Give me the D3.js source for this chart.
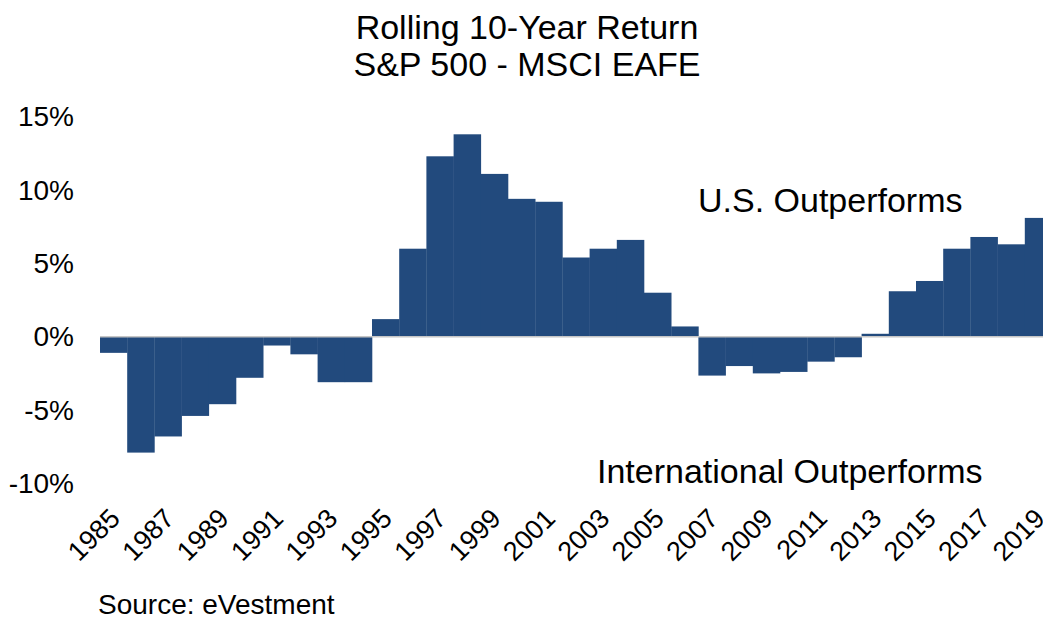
<!DOCTYPE html>
<html>
<head>
<meta charset="utf-8">
<script src="https://cdn.jsdelivr.net/npm/d3@7"></script>
<style>
  body { margin: 0; background: #fff; }
  text { font-family: "Liberation Sans", Arial, sans-serif; fill: #000; }
</style>
</head>
<body>
<div id="chart"></div>
<script>
// rolling 10-year return, S&P 500 minus MSCI EAFE (%)
let years = d3.range(1985, 2020).map(String);
let spread = [-1.1, -7.9, -6.8, -5.4, -4.6, -2.8, -0.6, -1.2, -3.1, -3.1,
              1.2, 6.0, 12.3, 13.8, 11.1, 9.4, 9.2, 5.4, 6.0, 6.6,
              3.0, 0.7, -2.65, -2.0, -2.5, -2.4, -1.7, -1.4, 0.2, 3.1,
              3.8, 6.0, 6.8, 6.3, 8.1];
let yTicks = [-10, -5, 0, 5, 10, 15];
let yearLabels = years.filter((d, i) => i % 2 == 0);

let width = 1043, height = 619;
let barColor = '#224a7d';

let svg = d3.select("#chart").append("svg")
  .attr('width', width)
  .attr('height', height);

let x = d3.scaleBand().domain(years).range([100, 1052]).padding(0);
let y = d3.scaleLinear().domain([-10, 15]).range([483.4, 116.7]);

// title
svg.append("text")
  .attr("x", 527).attr("y", 39)
  .attr("text-anchor", "middle")
  .attr("font-size", 34)
  .text("Rolling 10-Year Return");
svg.append("text")
  .attr("x", 527).attr("y", 76)
  .attr("text-anchor", "middle")
  .attr("font-size", 34)
  .text("S&P 500 - MSCI EAFE");

// bars
svg.append("g")
  .selectAll("rect")
  .data(spread)
  .enter()
  .append("rect")
  .attr("x", (d, i) => x(years[i]))
  .attr("width", x.bandwidth() + 0.3)
  .attr("y", d => y(Math.max(0, d)))
  .attr("height", d => Math.abs(y(d) - y(0)))
  .attr("fill", barColor);

// zero line
svg.append("line")
  .attr("x1", 100).attr("x2", width)
  .attr("y1", y(0)).attr("y2", y(0))
  .attr("stroke", "#c6c6c6")
  .attr("stroke-width", 1.5);

// y axis labels (no axis line)
let yAxis = d3.axisLeft(y)
  .tickValues(yTicks)
  .tickSize(0)
  .tickPadding(0)
  .tickFormat(d => d + "%");
let ya = svg.append("g")
  .attr("transform", "translate(74,0)")
  .call(yAxis);
ya.select(".domain").remove();
ya.selectAll("text")
  .attr("font-size", 28)
  .attr("font-family", '"Liberation Sans", Arial, sans-serif')
  .attr("fill", "#000");

// x axis labels, rotated
let xAxis = d3.axisBottom(x)
  .tickValues(yearLabels)
  .tickSize(0)
  .tickPadding(0);
let xa = svg.append("g")
  .attr("transform", "translate(0,520)")
  .call(xAxis);
xa.select(".domain").remove();
xa.selectAll("text")
  .attr("font-size", 27)
  .attr("font-family", '"Liberation Sans", Arial, sans-serif')
  .attr("fill", "#000")
  .attr("text-anchor", "end")
  .attr("dy", 0)
  .attr("y", 0)
  .attr("transform", "translate(8,0) rotate(-45)");

// annotations
svg.append("text")
  .attr("x", 698).attr("y", 212)
  .attr("font-size", 34)
  .text("U.S. Outperforms");
svg.append("text")
  .attr("x", 597).attr("y", 483)
  .attr("font-size", 34)
  .text("International Outperforms");

// source
svg.append("text")
  .attr("x", 98).attr("y", 614)
  .attr("font-size", 28)
  .text("Source: eVestment");
</script>
</body>
</html>
